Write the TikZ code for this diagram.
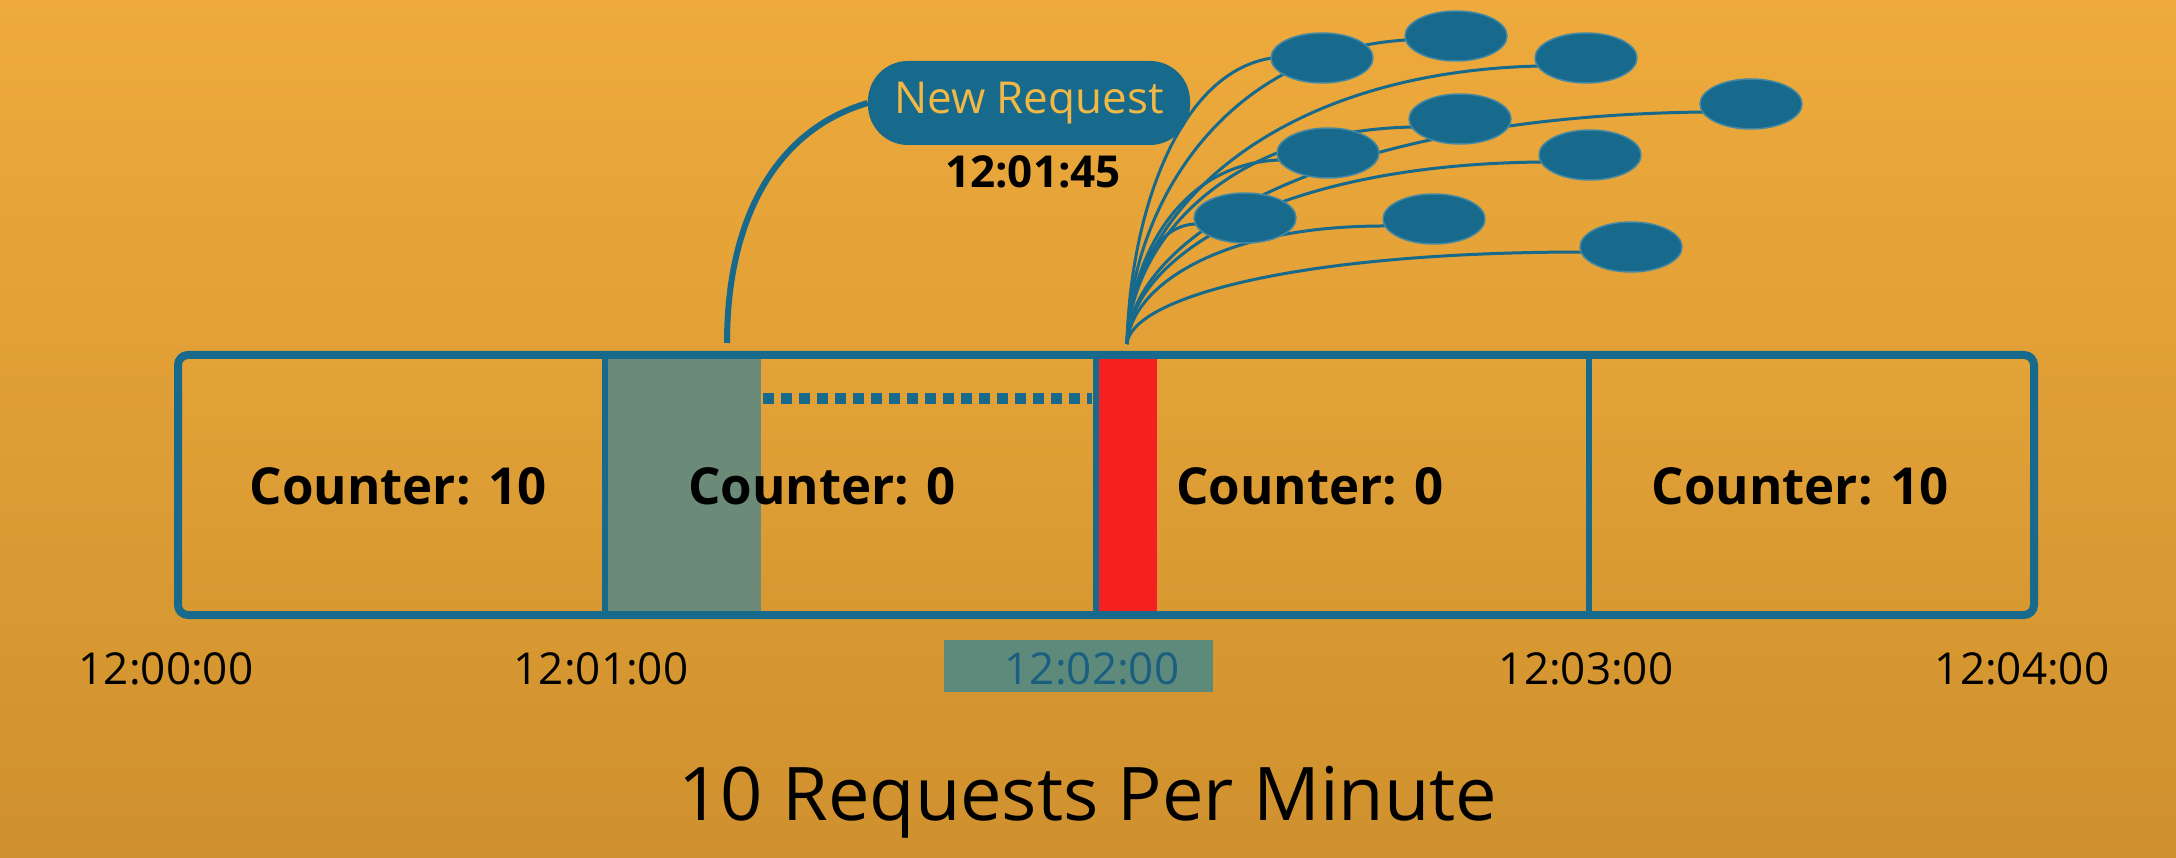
\documentclass[tikz,border=0pt]{standalone}
\usepackage{fontspec}
\setmainfont{Open Sans}
\usetikzlibrary{shapes.geometric}
\definecolor{bgtop}{HTML}{EEAA3C}
\definecolor{bgbot}{HTML}{CF912E}
\definecolor{boxtop}{HTML}{E3A338}
\definecolor{boxbot}{HTML}{D79831}
\definecolor{tblue}{HTML}{176A8C}
\definecolor{band}{HTML}{6B8B78}
\definecolor{redbar}{HTML}{F52020}
\definecolor{pilltext}{HTML}{F2B846}
\definecolor{labbox}{HTML}{5E8A7C}
\definecolor{labtext}{HTML}{1A5F80}
\tikzset{
  countertext/.style={font=\fontsize{51}{60}\selectfont\bfseries, text=black, inner sep=0pt},
  timetext/.style={font=\fontsize{44}{52}\selectfont, text=black, inner sep=0pt},
  req/.style={ellipse, fill=tblue, draw=tblue!80!white, line width=1.5pt, minimum width=102pt, minimum height=50pt, inner sep=0pt},
  burst/.style={draw=tblue, line width=3pt},
  divider/.style={draw=tblue, line width=6pt},
}
\begin{document}
\begin{tikzpicture}[x=1pt,y=-1pt]
\useasboundingbox (0,0) rectangle (2176,858);
\shade[top color=bgtop,bottom color=bgbot] (0,0) rectangle (2176,858);

% main box fill
\shade[top color=boxtop,bottom color=boxbot,rounded corners=10pt] (178,355) rectangle (2034,615);
% highlight band and red bar
\fill[band] (608,355) rectangle (761,615);
\fill[redbar] (1099,357) rectangle (1157,615);
% dividers
\draw[divider] (605,355) -- (605,615);
\draw[divider] (1096,355) -- (1096,615);
\draw[divider] (1589,355) -- (1589,615);
% outer border
\draw[tblue, line width=8pt, rounded corners=10pt] (178,355) rectangle (2034,615);
% dashed line
\draw[tblue, line width=11pt, dash pattern=on 11pt off 7pt] (763,398) -- (1092,398);

% counters
\node[countertext] (c1) at (398,486) {Counter: 10};
\node[countertext] (c2) at (822,486) {Counter: 0};
\node[countertext] (c3) at (1310,486) {Counter: 0};
\node[countertext] (c4) at (1800,486) {Counter: 10};

% time labels
\fill[labbox] (944,640) rectangle (1213,692);
\node[timetext] (t0) at (166,669) {12:00:00};
\node[timetext] (t1) at (601,669) {12:01:00};
\node[timetext, text=labtext] (t2) at (1092,669) {12:02:00};
\node[timetext] (t3) at (1586,669) {12:03:00};
\node[timetext] (t4) at (2022,669) {12:04:00};

% title
\node[font=\fontsize{74}{86}\selectfont, text=black, inner sep=0pt] (title) at (1088,802) {10 Requests Per Minute};

% new request pill
\node[fill=tblue, text=pilltext, rounded corners=40pt, minimum width=322pt, minimum height=84pt, inner sep=0pt, font=\fontsize{44}{52}\selectfont] (newreq) at (1029,103) {New Request};
\node[font=\fontsize{44}{52}\selectfont\bfseries, text=black, inner sep=0pt] (nrtime) at (1033,172) {12:01:45};
\coordinate (nrbase) at (727,343);
\draw[tblue, line width=6pt] (newreq.west) .. controls (775,130) and (727,220) .. (nrbase);

% burst of requests
\coordinate (base) at (1127,344);
\draw[burst] (base) .. controls (1130,215) and (1178,72) .. (1272,58);
\draw[burst] (base) .. controls (1130,205) and (1225,51) .. (1406,40);
\draw[burst] (base) .. controls (1130,215) and (1270,72) .. (1540,66);
\draw[burst] (base) .. controls (1130,236) and (1328,116) .. (1705,112);
\draw[burst] (base) .. controls (1130,243) and (1226,130) .. (1414,127);
\draw[burst] (base) .. controls (1130,258) and (1180,163) .. (1280,160);
\draw[burst] (base) .. controls (1130,259) and (1272,164) .. (1544,162);
\draw[burst] (base) .. controls (1130,287) and (1151,224) .. (1197,224);
\draw[burst] (base) .. controls (1130,288) and (1217,225) .. (1388,226);
\draw[burst] (base) .. controls (1130,300) and (1286,252) .. (1585,252);

\node[req] (r1) at (1322,58) {};
\node[req] (r2) at (1456,36) {};
\node[req] (r3) at (1586,58) {};
\node[req] (r4) at (1751,104) {};
\node[req] (r5) at (1460,119) {};
\node[req] (r6) at (1328,153) {};
\node[req] (r7) at (1590,155) {};
\node[req] (r8) at (1245,218) {};
\node[req] (r9) at (1434,219) {};
\node[req] (r10) at (1631,247) {};
\end{tikzpicture}
\end{document}
